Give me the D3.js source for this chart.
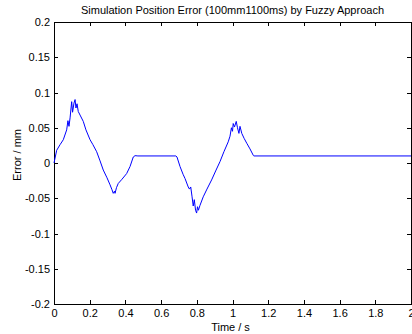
<!DOCTYPE html>
<html>
<head>
<meta charset="utf-8">
<script src="https://cdn.jsdelivr.net/npm/d3@7"></script>
<style>
  body { margin: 0; background: #fff; }
  text { font-family: "Liberation Sans", Arial, sans-serif; font-size: 11px; fill: #000; }
</style>
</head>
<body>
<div id="chart"></div>
<script>
// time (s) and error (mm)
var times = [0, 0.015, 0.034, 0.052, 0.071, 0.078, 0.084, 0.090, 0.099, 0.104, 0.112, 0.118, 0.123, 0.129,
    0.136, 0.146, 0.164, 0.179, 0.202, 0.218, 0.239, 0.258, 0.276, 0.297, 0.314, 0.325, 0.332, 0.339,
    0.342, 0.350, 0.360, 0.381, 0.407, 0.426, 0.444, 0.454, 0.47, 0.683, 0.689, 0.706, 0.723, 0.734,
    0.752, 0.759, 0.766, 0.773, 0.780, 0.786, 0.793, 0.799, 0.804, 0.809, 0.818, 0.836, 0.857, 0.883,
    0.908, 0.930, 0.952, 0.976, 0.986, 0.994, 1.000, 1.004, 1.011, 1.021, 1.028, 1.036, 1.042, 1.052,
    1.065, 1.080, 1.098, 1.117, 1.120, 2.0];
var errors = [0, 0.018, 0.026, 0.033, 0.047, 0.060, 0.052, 0.064, 0.087, 0.072, 0.085, 0.090, 0.078, 0.084,
    0.073, 0.068, 0.059, 0.047, 0.033, 0.026, 0.016, 0.003, -0.010, -0.021, -0.031, -0.038, -0.043, -0.040,
    -0.043, -0.035, -0.029, -0.023, -0.015, -0.005, 0.0085, 0.0104, 0.01, 0.01, 0.0085, -0.005, -0.016, -0.022,
    -0.034, -0.037, -0.034, -0.047, -0.061, -0.052, -0.067, -0.071, -0.062, -0.067, -0.060, -0.048, -0.037, -0.024,
    -0.010, 0.002, 0.016, 0.030, 0.038, 0.050, 0.045, 0.056, 0.051, 0.059, 0.050, 0.042, 0.052, 0.042,
    0.035, 0.028, 0.020, 0.0106, 0.01, 0.01];
var xTicks = [0, 0.2, 0.4, 0.6, 0.8, 1, 1.2, 1.4, 1.6, 1.8, 2];
var yTicks = [-0.2, -0.15, -0.1, -0.05, 0, 0.05, 0.1, 0.15, 0.2];

var W = 412, H = 334;
var margin = { top: 22, right: 1, bottom: 30, left: 54 },
    width = W - margin.left - margin.right,
    height = H - margin.top - margin.bottom;

var svg = d3.select("#chart").append("svg")
    .attr("width", W)
    .attr("height", H);

var x = d3.scaleLinear().domain([0, 2]).range([margin.left, margin.left + width]);
var y = d3.scaleLinear().domain([-0.2, 0.2]).range([margin.top + height, margin.top]);

var fmt = function (d) { return String(d); };

// bottom / left axes with inward ticks
svg.append("g")
    .attr("transform", "translate(0," + (margin.top + height) + ")")
    .call(d3.axisBottom(x).tickValues(xTicks).tickFormat(fmt).tickSizeInner(-4).tickSizeOuter(0).tickPadding(5));
svg.append("g")
    .attr("transform", "translate(" + margin.left + ",0)")
    .call(d3.axisLeft(y).tickValues(yTicks).tickFormat(fmt).tickSizeInner(-4).tickSizeOuter(0).tickPadding(4));
// top / right ticks, no labels
svg.append("g")
    .attr("transform", "translate(0," + margin.top + ")")
    .call(d3.axisTop(x).tickValues(xTicks).tickFormat("").tickSizeInner(-4).tickSizeOuter(0));
svg.append("g")
    .attr("transform", "translate(" + (margin.left + width) + ",0)")
    .call(d3.axisRight(y).tickValues(yTicks).tickFormat("").tickSizeInner(-4).tickSizeOuter(0));

svg.selectAll(".domain").attr("stroke", "#000").attr("shape-rendering", "crispEdges");
svg.selectAll(".tick line").attr("stroke", "#000").attr("shape-rendering", "crispEdges");
svg.selectAll(".tick text").style("font-size", "11px").attr("fill", "#000");

var points = times.map(function (t, i) { return [t, errors[i]]; });
var line = d3.line()
    .x(function (d) { return x(d[0]); })
    .y(function (d) { return y(d[1]); });

svg.append("path")
    .datum(points)
    .attr("fill", "none")
    .attr("stroke", "#0000ff")
    .attr("stroke-width", 1)
    .attr("d", line);

svg.append("text")
    .attr("x", margin.left + width / 2)
    .attr("y", 14)
    .attr("text-anchor", "middle")
    .text("Simulation Position Error (100mm1100ms) by Fuzzy Approach");

svg.append("text")
    .attr("x", margin.left + width / 2 - 2)
    .attr("y", 331)
    .attr("text-anchor", "middle")
    .text("Time / s");

svg.append("text")
    .attr("transform", "translate(21,155) rotate(-90)")
    .attr("text-anchor", "middle")
    .text("Error / mm");
</script>
</body>
</html>
